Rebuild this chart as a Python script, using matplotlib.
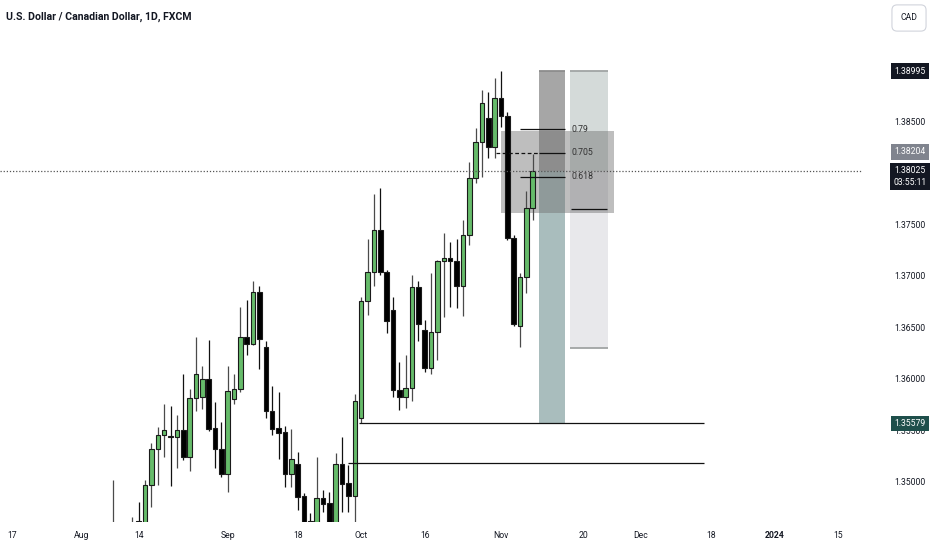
import matplotlib.pyplot as plt
import matplotlib.transforms as mtransforms
from matplotlib.patches import Rectangle
import pandas as pd

plt.rcParams["font.family"] = ["Roboto", "DejaVu Sans"]
FS = 6.2

title = "U.S. Dollar / Canadian Dollar, 1D, FXCM"
axis_start = "2023-07-17"
first_bar = "2023-08-08"

opens = [1.33800, 1.34300, 1.34400, 1.34500, 1.34625, 1.34610, 1.34978, 1.35327, 1.35463, 1.35453,
         1.35443, 1.35511, 1.35249, 1.35822, 1.35831, 1.36006, 1.35531, 1.35327, 1.35084, 1.35812,
         1.35909, 1.36414, 1.36346, 1.36850, 1.36317, 1.35696, 1.35531, 1.35492, 1.35084, 1.35181,
         1.34871, 1.34625, 1.34610, 1.34851, 1.34803, 1.34605, 1.35181, 1.34997, 1.34871, 1.35628,
         1.36763, 1.37045, 1.37452, 1.37045, 1.36676, 1.35899, 1.35831, 1.35919, 1.36899, 1.36482,
         1.36113, 1.36462, 1.37151, 1.37180, 1.37151, 1.36909, 1.37404, 1.37957, 1.38306, 1.38539,
         1.38258, 1.38733, 1.38558, 1.37374, 1.36521, 1.36996, 1.37666]
highs = [1.35026, 1.34550, 1.34580, 1.34667, 1.34813, 1.35026, 1.35385, 1.35540, 1.35764, 1.35744,
         1.35657, 1.36055, 1.35909, 1.36414, 1.36132, 1.36385, 1.35783, 1.35589, 1.36132, 1.36055,
         1.36705, 1.36773, 1.36957, 1.36909, 1.36375, 1.35938, 1.35880, 1.35550, 1.35521, 1.35298,
         1.34900, 1.34706, 1.35249, 1.34929, 1.34910, 1.35288, 1.35443, 1.35172, 1.35861, 1.36802,
         1.37365, 1.37801, 1.37860, 1.37060, 1.36802, 1.36171, 1.36239, 1.37015, 1.36957, 1.36579,
         1.37035, 1.37160, 1.37423, 1.37336, 1.37365, 1.37549, 1.38112, 1.38442, 1.38811, 1.38790,
         1.38927, 1.38995, 1.38600, 1.37400, 1.37035, 1.37831, 1.38190]
lows = [1.33650, 1.34100, 1.34250, 1.34400, 1.34550, 1.34550, 1.34764, 1.34978, 1.35249, 1.34968,
        1.35142, 1.35220, 1.35113, 1.35696, 1.35715, 1.35502, 1.35142, 1.35055, 1.34910, 1.35764,
        1.35880, 1.36239, 1.36336, 1.36103, 1.35628, 1.35463, 1.35230, 1.34958, 1.34958, 1.34735,
        1.34500, 1.34500, 1.34550, 1.34716, 1.34500, 1.34550, 1.34716, 1.34716, 1.34550, 1.35579,
        1.36627, 1.36909, 1.37015, 1.36453, 1.35831, 1.35705, 1.35725, 1.35793, 1.36375, 1.36074,
        1.36055, 1.36190, 1.36608, 1.36705, 1.36695, 1.36618, 1.37307, 1.37908, 1.37966, 1.38151,
        1.38151, 1.38452, 1.37355, 1.36521, 1.36314, 1.36841, 1.37549]
closes = [1.34300, 1.34400, 1.34500, 1.34580, 1.34615, 1.34978, 1.35327, 1.35463, 1.35511, 1.35443,
          1.35511, 1.35249, 1.35822, 1.36055, 1.36006, 1.35521, 1.35327, 1.35084, 1.35890, 1.35909,
          1.36414, 1.36346, 1.36850, 1.36394, 1.35696, 1.35521, 1.35482, 1.35084, 1.35230, 1.34861,
          1.34590, 1.34605, 1.34851, 1.34793, 1.34600, 1.35181, 1.34987, 1.34871, 1.35793, 1.36763,
          1.37045, 1.37452, 1.37045, 1.36569, 1.35899, 1.35831, 1.35919, 1.36899, 1.36540, 1.36113,
          1.36462, 1.37151, 1.37180, 1.37151, 1.36909, 1.37404, 1.37957, 1.38306, 1.38684, 1.38258,
          1.38733, 1.38558, 1.37374, 1.36540, 1.36996, 1.37666, 1.38025]

date_ticks = ["2023-07-17", "2023-08-01", "2023-08-14", "2023-09-01", "2023-09-18", "2023-10-02",
              "2023-10-16", "2023-11-01", "2023-11-20", "2023-12-01", "2023-12-18", "2024-01-01",
              "2024-01-15"]
date_labels = ["17", "Aug", "14", "Sep", "18", "Oct", "16", "Nov", "20", "Dec", "18", "2024", "15"]

price_ticks = [1.35000, 1.35500, 1.36000, 1.36500, 1.37000, 1.37500, 1.38500]

# drawings (x in bar index from axis_start)
fib_levels = ["0.79", "0.705", "0.618"]
fib_prices = [1.38429, 1.38204, 1.37969]
zone_top, zone_bottom = 1.38410, 1.37620
entry_price = 1.38025
stop_price = 1.38995
target_price = 1.35579
light_bottom = 1.36307
light_mark = 1.37656
support_lines = [1.35579, 1.35191]
support_start = [54.7, 53.0]

all_days = pd.bdate_range(axis_start, "2024-03-01")
pos = {d: n for n, d in enumerate(all_days)}
bar_days = pd.bdate_range(first_bar, periods=len(opens))
xs = [pos[d] for d in bar_days]

fig = plt.figure(figsize=(9.32, 5.5), dpi=100)
ax = fig.add_axes([0, 28 / 550, 862 / 932, 522 / 550])
ax.set_xlim(-1.83, 133.8)
ax.set_ylim(1.346185, 1.39684)
ax.axis("off")

# position tool columns
ax.add_patch(Rectangle((83, entry_price), 4, stop_price - entry_price, fc="#a6a6a6", ec="none", zorder=1))
ax.add_patch(Rectangle((83, target_price), 4, entry_price - target_price, fc="#a9bdbd", ec="none", zorder=1))
ax.add_patch(Rectangle((87.9, entry_price), 5.95, stop_price - entry_price, fc="#d4dad9", ec="none", zorder=1))
ax.add_patch(Rectangle((87.9, light_bottom), 5.95, entry_price - light_bottom, fc="#e8e8eb", ec="none",
                       zorder=1))
ax.hlines([stop_price, light_bottom], 87.9, 93.85, colors="#a0a4a4", lw=1.3, zorder=1.5)
ax.hlines([stop_price], 83, 87, colors="#8c8c8c", lw=1.3, zorder=1.5)

# fib zone
ax.add_patch(Rectangle((77.0, zone_bottom), 17.8, zone_top - zone_bottom, fc="#707070", alpha=0.45,
                       ec="none", zorder=2))

# candles
up = [c >= o for o, c in zip(opens, closes)]
body_lo = [min(o, c) for o, c in zip(opens, closes)]
body_h = [max(abs(c - o), 0.00004) for o, c in zip(opens, closes)]
ax.vlines(xs, lows, highs, colors=["#4a4a4a" if u else "#111111" for u in up], lw=0.9, zorder=3)
ax.bar(xs, body_h, bottom=body_lo, width=0.72, color=["#66bb6a" if u else "#000000" for u in up],
       edgecolor="#1a1a1a", linewidth=0.8, zorder=4)

# fib lines
ax.hlines([fib_prices[0], fib_prices[2]], 80, 87, colors="#111111", lw=0.9, zorder=5)
ax.hlines(fib_prices[1], 76.2, 83, colors="#111111", lw=0.9, linestyles=(0, (3, 2)), zorder=5)
ax.hlines(fib_prices[1], 83, 87, colors="#111111", lw=0.9, zorder=5)
for lab, p in zip(fib_levels, fib_prices):
    ax.text(88.1, p, lab, fontsize=6.3, color="#333333", va="center", ha="left", zorder=6)
ax.hlines(light_mark, 88, 93.7, colors="#111111", lw=0.9, zorder=5)

# support lines
for p, s in zip(support_lines, support_start):
    ax.hlines(p, s, 109, colors="#111111", lw=0.9, zorder=5)

# current price line
ax.axhline(entry_price, color="#555555", lw=0.9, ls=(0, (1, 1.5)), zorder=5)

# price axis
trans = mtransforms.blended_transform_factory(fig.transFigure, ax.transData)
px = 910 / 932
for p in price_ticks:
    fig.text(px, p, f"{p:.5f}", transform=trans, fontsize=FS, color="#131722", ha="center", va="center",
             zorder=3)
box = dict(boxstyle="square,pad=0.35", ec="none")
fig.text(px, stop_price, f"{stop_price:.5f}", transform=trans, fontsize=FS, color="white", ha="center",
         va="center", zorder=5, bbox={**box, "fc": "#131722"})
fig.text(px, fib_prices[1] + 0.00005, f"{fib_prices[1]:.5f}", transform=trans, fontsize=FS, color="white",
         ha="center", va="center", zorder=5, bbox={**box, "fc": "#80848e"})
fig.text(px, entry_price - 0.00057, f"{entry_price:.5f}\n03:55:11", transform=trans, fontsize=FS,
         color="white", ha="center", va="center", linespacing=1.45, zorder=5, bbox={**box, "fc": "#131722"})
fig.text(px, target_price, f"{target_price:.5f}", transform=trans, fontsize=FS, color="white",
         ha="center", va="center", zorder=5, bbox={**box, "fc": "#1e4f4b"})

# time axis
ytxt = 1 - 536 / 550
for d, lab in zip(date_ticks, date_labels):
    xi = pos[pd.Timestamp(d)]
    xf = ax.transData.transform((xi, 1.36))[0] / fig.bbox.width
    fig.text(xf, ytxt, lab, fontsize=FS, color="#131722", ha="center", va="center",
             fontweight="bold" if lab == "2024" else "normal")

fig.text(6 / 932, 1 - 17 / 550, title, fontsize=7.6, color="#131722", ha="left", va="center",
         fontweight="bold")
fig.text(909 / 932, 1 - 18 / 550, "CAD", fontsize=FS, color="#131722", ha="center", va="center",
         bbox=dict(boxstyle="round,pad=1.0,rounding_size=0.6", fc="white", ec="#d1d4dc", lw=0.8))

fig.savefig("out.png", dpi=100)
